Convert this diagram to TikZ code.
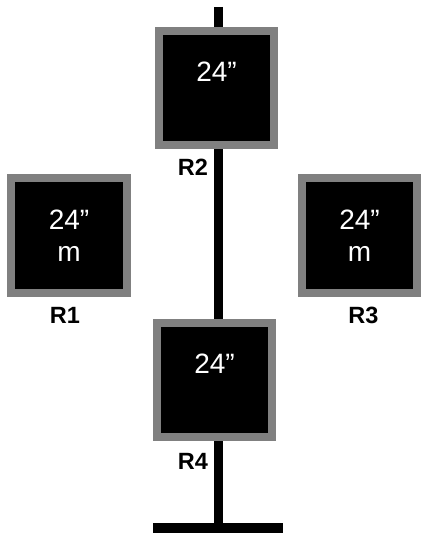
\documentclass[tikz,border=0pt]{standalone}
\usepackage{fontspec}
\setmainfont{Liberation Sans}
\usetikzlibrary{shadows}
\definecolor{frame}{RGB}{128,128,128}
\tikzset{
  panel/.style={fill=black, draw=frame, line width=8pt,
    drop shadow={opacity=0.12, shadow xshift=1.5pt, shadow yshift=-2.5pt}},
  size/.style={text=white, font=\fontsize{28}{32}\selectfont, align=center, inner sep=0pt},
  tag/.style={font=\fontsize{23.5}{26}\selectfont\bfseries, inner sep=0pt},
  pole/.style={line width=9pt},
  foot/.style={line width=10pt}
}
\begin{document}
\begin{tikzpicture}[x=1pt, y=-1pt]
  \useasboundingbox (0,0) rectangle (422,535);

  % stand: mast and foot
  \coordinate (top) at (218.5,7);
  \coordinate (bottom) at (218.5,523);
  \coordinate (footL) at (153,528);
  \coordinate (footR) at (283,528);
  \draw[pole] (top) -- (bottom);
  \draw[foot] (footL) -- (footR);

  % panels
  \draw[panel] (159,31) rectangle (274,145);
  \draw[panel] (11,178) rectangle (127,293);
  \draw[panel] (302,178) rectangle (417,293);
  \draw[panel] (157,323) rectangle (272,437);

  % panel captions
  \node[size] (t2) at (216.5,72) {24”};
  \node[size] (t1) at (69,236) {24”\\m};
  \node[size] (t3) at (359.5,236) {24”\\m};
  \node[size] (t4) at (214.5,364) {24”};

  % panel tags
  \node[tag] (r2) at (193,167) {R2};
  \node[tag] (r1) at (65,315) {R1};
  \node[tag] (r3) at (363.5,315) {R3};
  \node[tag] (r4) at (193,461) {R4};
\end{tikzpicture}
\end{document}
